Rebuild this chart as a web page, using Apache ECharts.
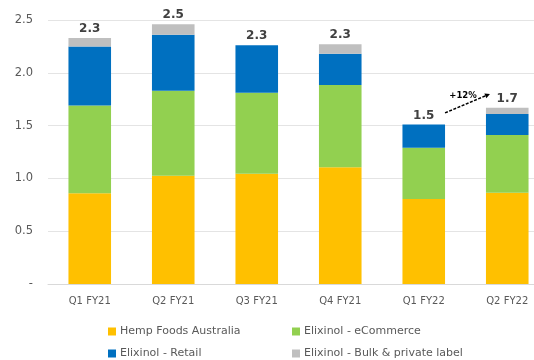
<!DOCTYPE html>
<html>
<head>
<meta charset="utf-8">
<script src="https://cdn.jsdelivr.net/npm/echarts@6/dist/echarts.min.js"></script>
<style>
  html, body { margin: 0; padding: 0; background: #fff; overflow: hidden; }
  #chart { width: 549px; height: 360px; }
</style>
</head>
<body>
<div id="chart"></div>
<script>
// Quarterly revenue by segment (A$m)
const quarters = ['Q1 FY21', 'Q2 FY21', 'Q3 FY21', 'Q4 FY21', 'Q1 FY22', 'Q2 FY22'];
const hempFoods = [0.86, 1.025, 1.045, 1.105, 0.805, 0.865];
const eCommerce = [0.83, 0.805, 0.765, 0.78, 0.485, 0.545];
const retail    = [0.56, 0.53, 0.45, 0.295, 0.22, 0.20];
const bulk      = [0.08, 0.10, 0.0, 0.09, 0.0, 0.06];
const yTicks = [0, 0.5, 1.0, 1.5, 2.0, 2.5];
const growthLabel = '+12%';

const totals = quarters.map((_, i) => hempFoods[i] + eCommerce[i] + retail[i] + bulk[i]);

const FONT = '"DejaVu Sans", Verdana, sans-serif';
const chart = echarts.init(document.getElementById('chart'));

function seg(name, data, color) {
  return {
    name, type: 'bar', stack: 'rev', data,
    barWidth: '51%',
    itemStyle: { color },
    emphasis: { disabled: true }
  };
}

const bulkSeries = seg('Elixinol - Bulk & private label', bulk, '#BFBFBF');
bulkSeries.label = {
  show: true, position: 'top', distance: 3,
  fontFamily: FONT, fontSize: 12, fontWeight: 'bold', color: '#404040',
  formatter: p => totals[p.dataIndex].toFixed(1)
};

// One legend entry per slot, laid out as a 2 x 2 block
function legendItem(name, left, topPx) {
  return {
    left, top: topPx, padding: 0,
    itemWidth: 8, itemHeight: 8, icon: 'rect', itemGap: 4,
    textStyle: { color: '#595959', fontSize: 11, fontFamily: FONT, padding: [0, 0, 0, -1] },
    data: [name]
  };
}

chart.setOption({
  animation: false,
  textStyle: { fontFamily: FONT },
  grid: { left: 48, top: 20, right: 0, height: 264, containLabel: false },
  xAxis: {
    type: 'category', data: quarters,
    axisLine: { lineStyle: { color: '#D9D9D9' } },
    axisTick: { show: false },
    axisLabel: { color: '#595959', fontSize: 10, margin: 12, fontFamily: FONT }
  },
  yAxis: {
    type: 'value', min: yTicks[0], max: yTicks[yTicks.length - 1], interval: 0.5,
    axisLine: { show: false }, axisTick: { show: false },
    splitLine: { lineStyle: { color: '#E4E4E4' } },
    axisLabel: {
      color: '#595959', fontSize: 11.5, margin: 15, fontFamily: FONT,
      formatter: v => v === 0 ? '-' : v.toFixed(1)
    }
  },
  legend: [
    legendItem('Hemp Foods Australia', 108, 326),
    legendItem('Elixinol - eCommerce', 292, 326),
    legendItem('Elixinol - Retail', 108, 348),
    legendItem('Elixinol - Bulk & private label', 292, 348)
  ],
  series: [
    seg('Hemp Foods Australia', hempFoods, '#FFC000'),
    seg('Elixinol - eCommerce', eCommerce, '#92D050'),
    seg('Elixinol - Retail', retail, '#0070C0'),
    bulkSeries
  ]
});

// Growth arrow between the last two quarters, placed from axis coordinates
const a = quarters.length - 2, b = quarters.length - 1;
const p0 = chart.convertToPixel({ seriesIndex: 0 }, [a, 1.62]);
const p1 = chart.convertToPixel({ seriesIndex: 0 }, [b, 1.80]);
const half = (p1[0] - p0[0]) * 0.51 / 2;
const x0 = p0[0] + half, x1 = p1[0] - half + 4;
const y0 = p0[1], y1 = p1[1];
const ang = Math.atan2(y1 - y0, x1 - x0);
const hl = 5, hw = 2.5;
const hx = x1 - hl * Math.cos(ang), hy = y1 - hl * Math.sin(ang);
chart.setOption({
  graphic: [
    {
      type: 'line',
      shape: { x1: x0, y1: y0, x2: hx, y2: hy },
      style: { stroke: '#000', lineWidth: 1.5, lineDash: [3, 1.5] }
    },
    {
      type: 'polygon',
      shape: { points: [
        [x1, y1],
        [hx + hw * Math.sin(ang), hy - hw * Math.cos(ang)],
        [hx - hw * Math.sin(ang), hy + hw * Math.cos(ang)]
      ] },
      style: { fill: '#000' }
    },
    {
      type: 'text',
      x: x0 + 18, y: y0 - 17,
      style: { text: growthLabel, font: 'bold 8.5px ' + FONT, fill: '#000', textAlign: 'center', textVerticalAlign: 'middle' }
    }
  ]
});
</script>
</body>
</html>
